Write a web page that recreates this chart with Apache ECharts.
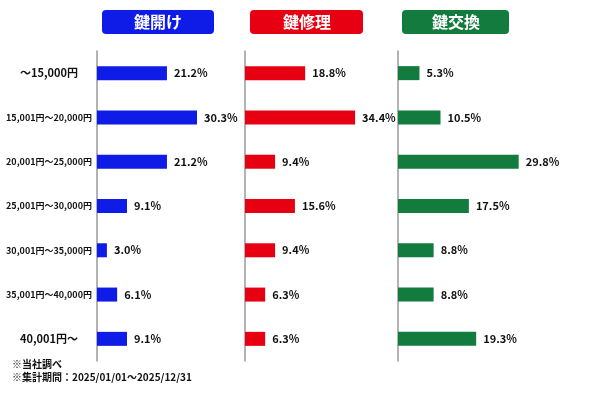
<!DOCTYPE html>
<html>
<head>
<meta charset="utf-8">
<script src="https://cdn.jsdelivr.net/npm/echarts@6/dist/echarts.min.js"></script>
<style>
  html, body { margin: 0; padding: 0; background: #fff; }
  #chart { width: 600px; height: 400px; }
</style>
</head>
<body>
<div id="chart"></div>
<script>
// 価格帯
const categories = [
  "～15,000円",
  "15,001円～20,000円",
  "20,001円～25,000円",
  "25,001円～30,000円",
  "30,001円～35,000円",
  "35,001円～40,000円",
  "40,001円～",
];
const panelNames = ["鍵開け", "鍵修理", "鍵交換"];
const unlockValues = [21.2, 30.3, 21.2, 9.1, 3.0, 6.1, 9.1];
const repairValues = [18.8, 34.4, 9.4, 15.6, 9.4, 6.3, 6.3];
const replaceValues = [5.3, 10.5, 29.8, 17.5, 8.8, 8.8, 19.3];
const notes = ["※当社調べ", "※集計期間：2025/01/01～2025/12/31"];

const colors = ["#0f1be6", "#e60012", "#137b3e"];
const jpFont = "'Noto Sans CJK JP', sans-serif";

let chart = echarts.init(document.getElementById("chart"));

const grids = [
  { left: 97, top: 51, width: 132, height: 310, outerBoundsMode: "none" },
  { left: 245, top: 51, width: 128, height: 310, outerBoundsMode: "none" },
  { left: 398, top: 51, width: 162, height: 310, outerBoundsMode: "none" },
];

const headerPos = [
  { left: 102, padding: [3, 32, 3, 32] },
  { left: 250, padding: [3, 32, 3, 33] },
  { left: 402, padding: [3, 29, 3, 30] },
];

let titles = panelNames.map((name, i) => ({
  text: name,
  left: headerPos[i].left,
  top: 10,
  padding: headerPos[i].padding,
  backgroundColor: colors[i],
  borderRadius: 4,
  textStyle: {
    color: "#fff",
    fontSize: 16,
    fontWeight: "bold",
    fontFamily: jpFont,
    lineHeight: 18,
  },
}));
notes.forEach((t, i) => {
  titles.push({
    text: t,
    left: 12,
    top: 359 + i * 13,
    padding: 0,
    textStyle: {
      color: "#111",
      fontSize: 10,
      fontWeight: "bold",
      fontFamily: jpFont,
    },
  });
});

const seriesData = [unlockValues, repairValues, replaceValues];

let option = {
  backgroundColor: "#fff",
  animation: false,
  title: titles,
  grid: grids,
  xAxis: grids.map((g, i) => ({
    type: "value",
    gridIndex: i,
    min: 0,
    max: 40,
    show: false,
  })),
  yAxis: grids.map((g, i) => ({
    type: "category",
    gridIndex: i,
    data: categories,
    inverse: true,
    axisLine: { show: true, lineStyle: { color: "#9a9a9a", width: 1.5 } },
    axisTick: { show: false },
    axisLabel: {
      show: i === 0,
      align: "center",
      margin: 48,
      hideOverlap: false,
      formatter: (v, idx) =>
        idx === 0 || idx === categories.length - 1 ? "{big|" + v + "}" : "{small|" + v + "}",
      rich: {
        big: { fontSize: 11, fontWeight: "bold", color: "#111", fontFamily: jpFont },
        small: { fontSize: 9, fontWeight: "bold", color: "#111", fontFamily: jpFont },
      },
    },
    splitLine: { show: false },
  })),
  series: seriesData.map((data, i) => ({
    type: "bar",
    xAxisIndex: i,
    yAxisIndex: i,
    data: data,
    barWidth: 14,
    itemStyle: { color: colors[i] },
    label: {
      show: true,
      position: "right",
      distance: 7,
      formatter: (p) => p.value.toFixed(1) + "%",
      color: "#111",
      fontSize: 11,
      fontWeight: "bold",
      fontFamily: jpFont,
    },
  })),
};

chart.setOption(option);
</script>
</body>
</html>
